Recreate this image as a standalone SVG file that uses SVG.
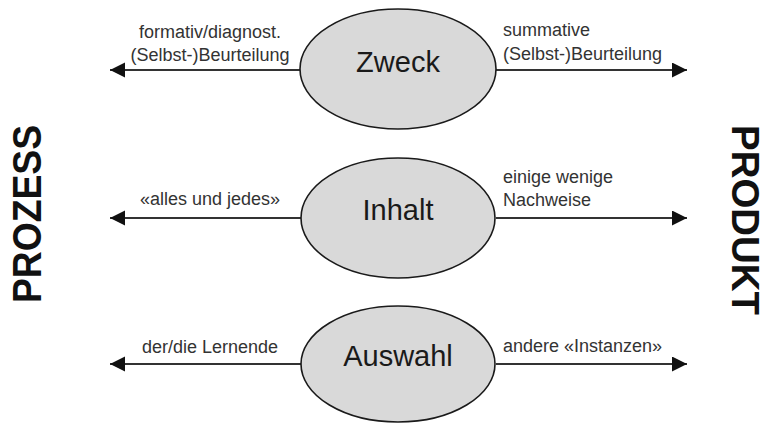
<svg xmlns="http://www.w3.org/2000/svg" width="768" height="423" viewBox="0 0 768 423">
  <defs>
    <marker id="arrow" markerUnits="userSpaceOnUse" markerWidth="16" markerHeight="16" refX="15" refY="7.5" orient="auto">
      <path d="M0,0 L15,7.5 L0,15 Z" fill="#111"/>
    </marker>
    <style>
      .node ellipse { fill: #d9d9d9; stroke: #1a1a1a; stroke-width: 1.6; }
      .node text { font-family: "Liberation Sans", Arial, sans-serif; font-size: 29px; fill: #1a1a1a; text-anchor: middle; }
      .conn line { stroke: #333; stroke-width: 2; marker-end: url(#arrow); }
      .lbl { font-family: "Liberation Sans", Arial, sans-serif; font-size: 18px; fill: #333; }
      .lbl.l { text-anchor: middle; }
      .lbl.r { text-anchor: start; }
      .side { font-family: "Liberation Sans", Arial, sans-serif; font-size: 41px; font-weight: bold; fill: #111; text-anchor: middle; }
      .side.right { font-size: 38px; }
    </style>
  </defs>
  <rect width="768" height="423" fill="#ffffff"/>

  <g id="connectors" class="conn">
    <line x1="300" y1="70" x2="110" y2="70"/>
    <line x1="496" y1="70" x2="687" y2="70"/>
    <line x1="301" y1="218" x2="110" y2="218"/>
    <line x1="496" y1="218" x2="687" y2="218"/>
    <line x1="301" y1="364" x2="110" y2="364"/>
    <line x1="496" y1="364" x2="687" y2="364"/>
  </g>

  <g id="labels">
    <text class="lbl l" x="210" y="38">formativ/diagnost.</text>
    <text class="lbl l" x="210" y="61">(Selbst-)Beurteilung</text>
    <text class="lbl r" x="503" y="36">summative</text>
    <text class="lbl r" x="503" y="60">(Selbst-)Beurteilung</text>
    <text class="lbl l" x="210" y="205">«alles und jedes»</text>
    <text class="lbl r" x="503" y="183">einige wenige</text>
    <text class="lbl r" x="503" y="206">Nachweise</text>
    <text class="lbl l" x="210" y="353">der/die Lernende</text>
    <text class="lbl r" x="503" y="352">andere «Instanzen»</text>
  </g>

  <g id="zweck" class="node">
    <ellipse cx="398" cy="69" rx="98" ry="60"/>
    <text x="398" y="72">Zweck</text>
  </g>
  <g id="inhalt" class="node">
    <ellipse cx="398" cy="218" rx="97" ry="60"/>
    <text x="398" y="220">Inhalt</text>
  </g>
  <g id="auswahl" class="node">
    <ellipse cx="398" cy="364" rx="97" ry="58"/>
    <text x="398" y="366">Auswahl</text>
  </g>

  <g id="prozess">
    <text class="side" transform="translate(41,214) rotate(-90)" textLength="178" lengthAdjust="spacingAndGlyphs">PROZESS</text>
  </g>
  <g id="produkt">
    <text class="side right" transform="translate(732,220) rotate(90)" textLength="190" lengthAdjust="spacingAndGlyphs">PRODUKT</text>
  </g>
</svg>
